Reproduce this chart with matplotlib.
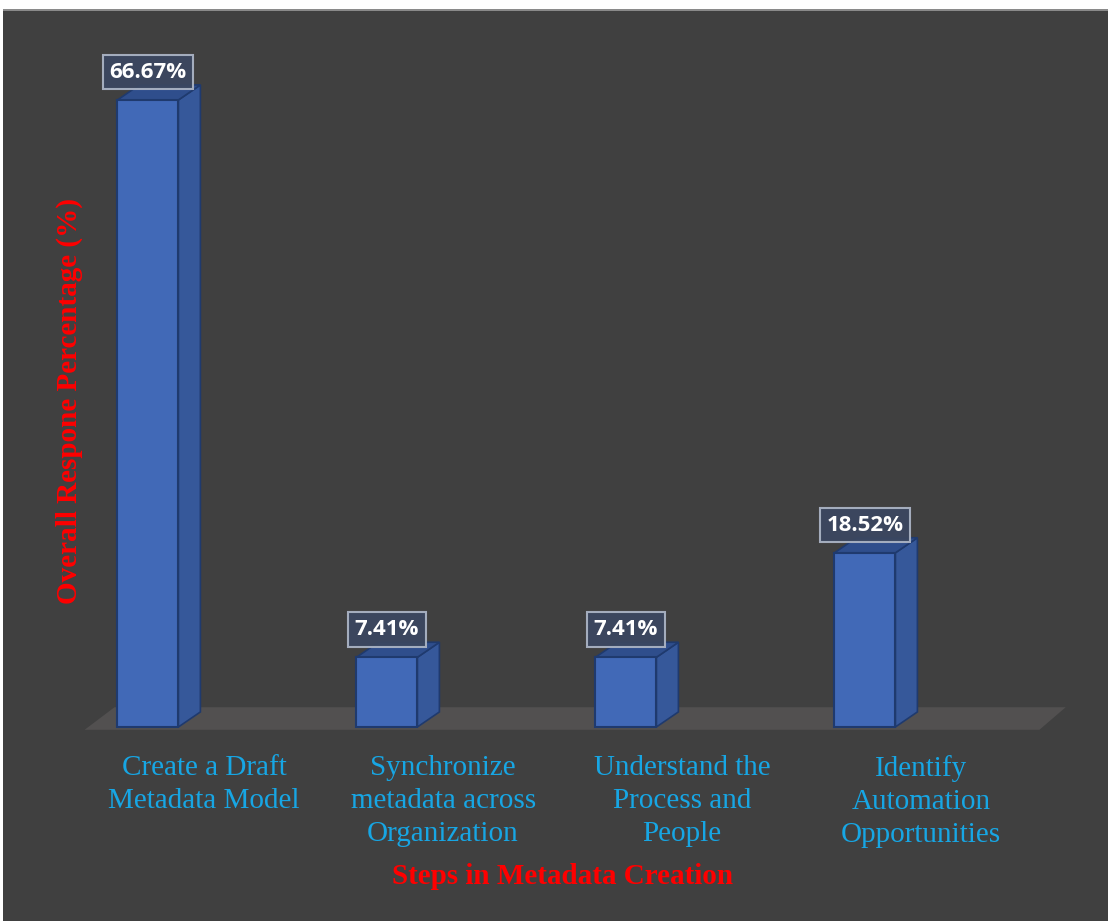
import matplotlib.pyplot as plt
from matplotlib.patches import Polygon, Rectangle

steps = ["Create a Draft\nMetadata Model",
         "Synchronize\nmetadata across\nOrganization",
         "Understand the\nProcess and\nPeople",
         "Identify\nAutomation\nOpportunities"]
response_pct = [66.67, 7.41, 7.41, 18.52]

W, H = 1108, 921
fig = plt.figure(figsize=(W / 100, H / 100), dpi=100)
fig.patch.set_facecolor("white")

# one axes over the whole canvas: x = category index, y = percent
ax = fig.add_axes([0, 0, 1, 1])
ax.set_xlim(-0.619, 4.017)
ax.set_ylim(-20.63, 77.30)
ax.axis("off")

# dark panel with a thin light rim at the top
ax.add_patch(Rectangle((3 / W, 0), 1, (H - 10) / H, transform=fig.transFigure,
                       facecolor="#404040", edgecolor="none", zorder=0))
ax.add_patch(Rectangle((3 / W, (H - 11) / H), 1, 1.5 / H, transform=fig.transFigure,
                       facecolor="#8a8a8a", edgecolor="none", zorder=0.5))

bar_w = 0.255
dx, dy = 0.092, 1.6   # depth of the 3-D bars

# floor plane
floor = Polygon([(-0.265, -0.3), (3.73, -0.3), (3.84, 2.1), (-0.14, 2.1)],
                closed=True, facecolor="#525050", edgecolor="none", zorder=1)
ax.add_patch(floor)

front_c, side_c, top_c, edge_c = "#4169b7", "#36589a", "#2f4e8c", "#1f3a6e"
for i, v in enumerate(response_pct):
    x0, x1 = i - bar_w / 2, i + bar_w / 2
    side = Polygon([(x1, 0), (x1 + dx, dy), (x1 + dx, v + dy), (x1, v)],
                   facecolor=side_c, edgecolor=edge_c, lw=1.2, zorder=2)
    top = Polygon([(x0, v), (x0 + dx, v + dy), (x1 + dx, v + dy), (x1, v)],
                  facecolor=top_c, edgecolor=edge_c, lw=1.2, zorder=2)
    front = Polygon([(x0, 0), (x1, 0), (x1, v), (x0, v)],
                    facecolor=front_c, edgecolor=edge_c, lw=1.5, zorder=3)
    for p in (side, top, front):
        ax.add_patch(p)

    ax.annotate(f"{v:.2f}%", xy=(i, v), xytext=(0, 20), textcoords="offset points",
                ha="center", va="center", color="white", fontsize=16, fontweight="bold",
                family="Open Sans", zorder=5,
                bbox=dict(boxstyle="square,pad=0.3", facecolor="#3b4760", alpha=0.95,
                          edgecolor="#aab3c4", linewidth=1.5))

    ax.text(i + 0.235, -2.95, steps[i], ha="center", va="top", color="#17a6e4",
            fontsize=21, family="Liberation Serif", linespacing=1.36, zorder=4)

fig.text(563 / W, 1 - 876 / H, "Steps in Metadata Creation", ha="center", va="center",
         color="#ff0000", fontsize=21, fontweight="bold", family="Liberation Serif")
fig.text(69 / W, 1 - 401 / H, "Overall Respone Percentage (%)", ha="center", va="center",
         rotation=90, color="#ff0000", fontsize=21, fontweight="bold",
         family="Liberation Serif")

fig.savefig("out.png", dpi=100, facecolor=fig.get_facecolor())
